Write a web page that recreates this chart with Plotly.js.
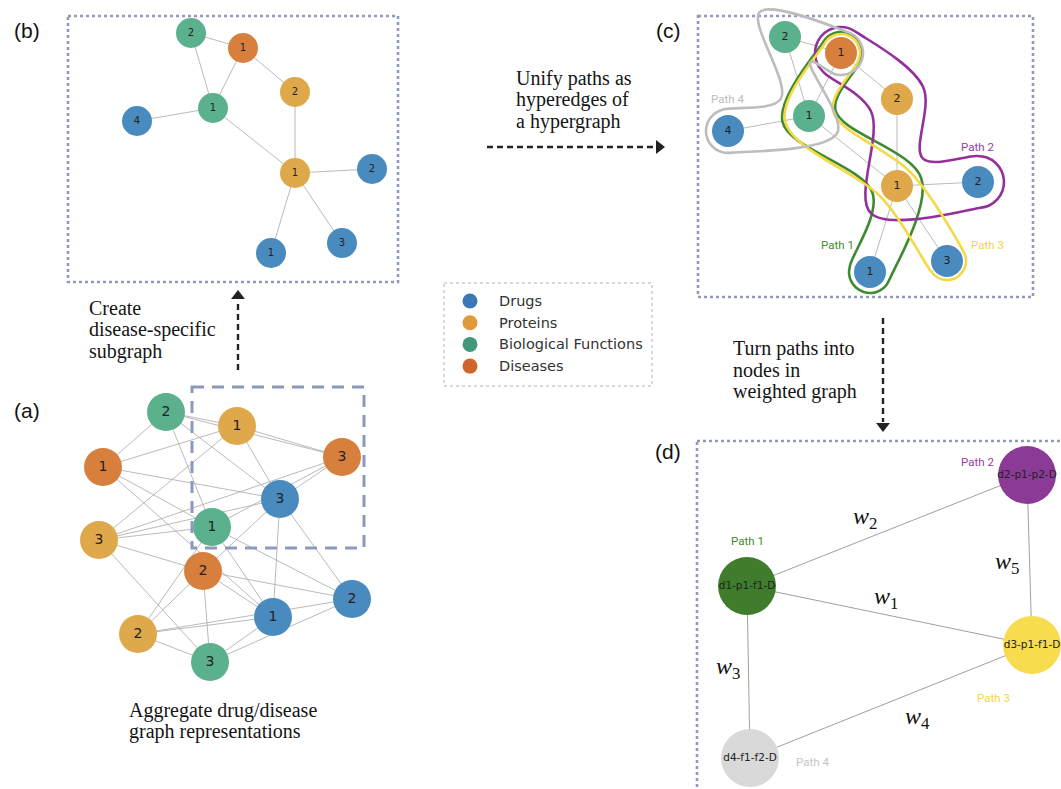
<!DOCTYPE html>
<html>
<head>
<meta charset="utf-8">
<script src="https://cdn.plot.ly/plotly-3.0.1.min.js"></script>
<style>
  html, body { margin: 0; padding: 0; background: #ffffff; }
  #fig { width: 1061px; height: 789px; }
</style>
</head>
<body>
<div id="fig"></div>
<script>
// ---------- node categories ----------
const categories = ['Drugs', 'Proteins', 'Biological Functions', 'Diseases'];
const categoryColors = ['#4a8bbf', '#dfa84a', '#5bb08d', '#d7803e'];
const legendColors = ['#3b78b5', '#e09a3a', '#40997a', '#cf6528'];

// ---------- (a) aggregated drug / disease graph ----------
const aNodeX = [166, 237, 342, 103, 280, 212, 99, 203, 352, 273, 138, 210];
const aNodeY = [412, 426, 457, 467, 499, 527, 540, 571, 599, 617, 634, 662];
const aNodeCat = [2, 1, 3, 3, 0, 2, 1, 3, 0, 0, 1, 2];
const aNodeLabel = ['2', '1', '3', '1', '3', '1', '3', '2', '2', '1', '2', '3'];
const aEdges = [
  [0, 3], [0, 1], [0, 2], [0, 5], [0, 4],
  [1, 3], [1, 2], [1, 6], [1, 4],
  [3, 4], [3, 5], [3, 9],
  [2, 4], [2, 5], [2, 6],
  [4, 6], [4, 7], [4, 9], [4, 8],
  [5, 6], [5, 8], [5, 9], [5, 10],
  [6, 7], [6, 11],
  [7, 8], [7, 9], [7, 11], [7, 10],
  [10, 9], [10, 8], [10, 11],
  [11, 9], [11, 8]
];

// ---------- (b) disease-specific subgraph ----------
const bNodeX = [191, 243, 295, 213, 137, 295, 372, 271, 342];
const bNodeY = [33, 48, 92, 108, 121, 173, 169, 253, 243];
const subNodeCat = [2, 3, 1, 2, 0, 1, 0, 0, 0];
const subNodeLabel = ['2', '1', '2', '1', '4', '1', '2', '1', '3'];
const subEdges = [[0, 1], [0, 3], [1, 3], [1, 2], [2, 5], [3, 4], [3, 5], [5, 6], [5, 7], [5, 8]];

// ---------- (c) hypergraph: same subgraph, paths as hyperedges ----------
const cNodeX = [785, 841, 897, 809, 728, 897, 978, 870, 947];
const cNodeY = [37, 53, 99, 116, 131, 186, 182, 272, 261];
const pathNames = ['Path 1', 'Path 2', 'Path 3', 'Path 4'];
const pathColors = ['#3e8a2e', '#94309c', '#f4d846', '#bdbdbd'];
const pathLabelColors = ['#3e8a2e', '#9b3aa5', '#f2d640', '#bdbdbd'];
const pathNodes = [
  [7, 5, 3, 1],   // d1 - p1 - f1 - D
  [1, 2, 5, 6],   // D - p2 - p1 - d2
  [1, 3, 5, 8],   // D - f1 - p1 - d3
  [4, 3, 0, 1]    // d4 - f1 - f2 - D
];
const pathLabelX = [837, 977, 987, 727];
const pathLabelY = [245, 147, 245, 99];

// ---------- (d) weighted graph of paths ----------
const dNodeLabel = ['d1-p1-f1-D', 'd2-p1-p2-D', 'd3-p1-f1-D', 'd4-f1-f2-D'];
const dNodeX = [747, 1027, 1032, 750];
const dNodeY = [586, 475, 645, 758];
const dNodeColors = ['#3f7d2c', '#8b3a96', '#f7dc50', '#d9d9d9'];
const dEdges = [[0, 1], [0, 2], [1, 2], [0, 3], [2, 3]];
const dWeights = ['2', '1', '5', '3', '4'];
const dPathLabelColors = ['#3e8a2e', '#9b3aa5', '#f2d640', '#c4c4c4'];

// ---------- captions ----------
const captionCreate = ['Create', 'disease-specific', 'subgraph'];
const captionUnify = ['Unify paths as', 'hyperedges of', 'a hypergraph'];
const captionTurn = ['Turn paths into', 'nodes in', 'weighted graph'];
const captionAggregate = ['Aggregate drug/disease', 'graph representations'];

// ---------- helpers ----------
function edgeXY(xs, ys, edges) {
  const x = [], y = [];
  edges.forEach(([s, t]) => { x.push(xs[s], xs[t], null); y.push(ys[s], ys[t], null); });
  return { x, y };
}

// Rounded band around a chain of nodes (offset both sides, round caps)
function bandOutline(pts, r) {
  const n = pts.length, dirs = [], nrms = [];
  for (let i = 0; i < n - 1; i++) {
    const dx = pts[i + 1][0] - pts[i][0], dy = pts[i + 1][1] - pts[i][1];
    const L = Math.hypot(dx, dy);
    dirs.push([dx / L, dy / L]);
    nrms.push([-dy / L, dx / L]);
  }
  const left = [], right = [];
  for (let i = 0; i < n; i++) {
    let b, m = r;
    if (i === 0) b = nrms[0];
    else if (i === n - 1) b = nrms[n - 2];
    else {
      const bx = nrms[i - 1][0] + nrms[i][0], by = nrms[i - 1][1] + nrms[i][1];
      const bl = Math.hypot(bx, by);
      if (bl < 1e-6) b = nrms[i];
      else {
        b = [bx / bl, by / bl];
        m = r / Math.max(b[0] * nrms[i][0] + b[1] * nrms[i][1], 0.62);
      }
    }
    left.push([pts[i][0] + b[0] * m, pts[i][1] + b[1] * m]);
    right.push([pts[i][0] - b[0] * m, pts[i][1] - b[1] * m]);
  }
  const arc = (c, u, v) => {
    const out = [];
    for (let k = 1; k < 8; k++) {
      const t = Math.PI * k / 8;
      out.push([c[0] + r * (Math.cos(t) * u[0] + Math.sin(t) * v[0]),
                c[1] + r * (Math.cos(t) * u[1] + Math.sin(t) * v[1])]);
    }
    return out;
  };
  const endCap = arc(pts[n - 1], nrms[n - 2], dirs[n - 2]);
  const startCap = arc(pts[0], [-nrms[0][0], -nrms[0][1]], [-dirs[0][0], -dirs[0][1]]);
  const ring = [...left, ...endCap, ...right.reverse(), ...startCap, left[0]];
  return { x: ring.map(p => p[0]), y: ring.map(p => p[1]) };
}

const edgeLine = { color: '#a8a8a8', width: 0.8 };
const nodeFont = (size) => ({ family: 'DejaVu Sans', size: size, color: '#222222' });
const traces = [];

// (a)
const aE = edgeXY(aNodeX, aNodeY, aEdges);
traces.push({ type: 'scatter', mode: 'lines', x: aE.x, y: aE.y, line: edgeLine, hoverinfo: 'skip' });
traces.push({
  type: 'scatter', mode: 'markers+text', x: aNodeX, y: aNodeY, text: aNodeLabel,
  textposition: 'middle center', textfont: nodeFont(14),
  marker: { size: 38, color: aNodeCat.map(c => categoryColors[c]), line: { width: 0 } },
  hoverinfo: 'skip'
});

// (b)
const bE = edgeXY(bNodeX, bNodeY, subEdges);
traces.push({ type: 'scatter', mode: 'lines', x: bE.x, y: bE.y, line: edgeLine, hoverinfo: 'skip' });
traces.push({
  type: 'scatter', mode: 'markers+text', x: bNodeX, y: bNodeY, text: subNodeLabel,
  textposition: 'middle center', textfont: nodeFont(10),
  marker: { size: 30, color: subNodeCat.map(c => categoryColors[c]), line: { width: 0 } },
  hoverinfo: 'skip'
});

// (c)
const cE = edgeXY(cNodeX, cNodeY, subEdges);
traces.push({ type: 'scatter', mode: 'lines', x: cE.x, y: cE.y, line: edgeLine, hoverinfo: 'skip' });
traces.push({
  type: 'scatter', mode: 'markers+text', x: cNodeX, y: cNodeY, text: subNodeLabel,
  textposition: 'middle center', textfont: nodeFont(11),
  marker: { size: 32, color: subNodeCat.map(c => categoryColors[c]), line: { width: 0 } },
  hoverinfo: 'skip'
});
const bandRadius = [21, 26, 19, 22];
pathNodes.forEach((seq, p) => {
  const ring = bandOutline(seq.map(i => [cNodeX[i], cNodeY[i]]), bandRadius[p]);
  traces.push({
    type: 'scatter', mode: 'lines', x: ring.x, y: ring.y,
    line: { color: pathColors[p], width: 2.6, shape: 'spline', smoothing: 1 },
    hoverinfo: 'skip'
  });
});

// (d)
const dE = edgeXY(dNodeX, dNodeY, dEdges);
traces.push({ type: 'scatter', mode: 'lines', x: dE.x, y: dE.y, line: { color: '#a0a0a0', width: 1 }, hoverinfo: 'skip' });
traces.push({
  type: 'scatter', mode: 'markers+text', x: dNodeX, y: dNodeY, text: dNodeLabel,
  textposition: 'middle center', textfont: nodeFont(10.5),
  marker: { size: 58, color: dNodeColors, line: { width: 0 } },
  hoverinfo: 'skip'
});

// legend swatches
const legendLeft = 470, legendTop = 301, legendStep = 21.7;
traces.push({
  type: 'scatter', mode: 'markers',
  x: categories.map(() => legendLeft),
  y: categories.map((_, i) => legendTop + i * legendStep),
  marker: { size: 15, color: legendColors, line: { width: 0 } },
  hoverinfo: 'skip'
});

// arrow heads of the dashed connectors
const arrows = [
  { x0: 238, y0: 370, x1: 238, y1: 300, head: 'triangle-up', hx: 238, hy: 296 },
  { x0: 487, y0: 147, x1: 656, y1: 147, head: 'triangle-right', hx: 659, hy: 147 },
  { x0: 883, y0: 318, x1: 883, y1: 422, head: 'triangle-down', hx: 883, hy: 426 }
];
arrows.forEach(a => traces.push({
  type: 'scatter', mode: 'markers', x: [a.hx], y: [a.hy],
  marker: { symbol: a.head, size: 12, color: '#222222', line: { width: 0 } },
  hoverinfo: 'skip'
}));

// ---------- shapes ----------
const boxLine = { color: '#8f97c2', width: 2.6, dash: 'dot' };
const shapes = [
  { type: 'rect', x0: 68, y0: 16, x1: 398, y1: 282, line: boxLine, layer: 'below' },
  { type: 'rect', x0: 698, y0: 16, x1: 1033, y1: 297, line: boxLine, layer: 'below' },
  { type: 'rect', x0: 697, y0: 441, x1: 1075, y1: 800, line: boxLine, layer: 'below' },
  { type: 'rect', x0: 444, y0: 283, x1: 652, y1: 386, line: { color: '#a9b0cc', width: 1, dash: 'dot' } },
  { type: 'rect', x0: 192, y0: 387, x1: 364, y1: 548, line: { color: '#8c99be', width: 3, dash: '12px,8px' }, layer: 'above' }
];
arrows.forEach(a => shapes.push({
  type: 'line', x0: a.x0, y0: a.y0, x1: a.x1, y1: a.y1,
  line: { color: '#222222', width: 2.4, dash: '6px,4px' }
}));

// ---------- annotations ----------
const serif = { family: 'Liberation Serif, Times New Roman, serif', size: 20, color: '#151515' };
const sans = { family: 'Liberation Sans, Arial, sans-serif', size: 21, color: '#111111' };
const pathFont = (color, size) => ({ family: 'Roboto, sans-serif', size: size, color: color });
const annotations = [];
const addText = (x, y, text, font, xanchor) => annotations.push({
  x, y, xref: 'x', yref: 'y', text, font, showarrow: false,
  xanchor: xanchor || 'left', yanchor: 'middle', align: 'left'
});
// multi-line caption with tight line spacing
const lineGap = 21.7;
const addCaption = (x, yFirst, lines) =>
  lines.forEach((t, i) => addText(x, yFirst + i * lineGap, t, serif));

addText(27, 30, '(b)', sans, 'center');
addText(668, 30, '(c)', sans, 'center');
addText(27, 410, '(a)', sans, 'center');
addText(668, 451, '(d)', sans, 'center');

addCaption(87, 308, captionCreate);
addCaption(514, 78, captionUnify);
addCaption(731, 348, captionTurn);
addCaption(127, 710, captionAggregate);

categories.forEach((c, i) => addText(497, legendTop + i * legendStep, c,
  { family: 'DejaVu Sans', size: 14.5, color: '#333333' }));

pathNames.forEach((p, i) => addText(pathLabelX[i], pathLabelY[i], p,
  pathFont(pathLabelColors[i], 11.5), 'center'));

// (d) path labels next to each node
const dLabelOffset = [[0, -45], [-50, -13], [-39, 53], [62, 4]];
dNodeX.forEach((x, i) => addText(x + dLabelOffset[i][0], dNodeY[i] + dLabelOffset[i][1],
  pathNames[i], pathFont(dPathLabelColors[i], 11.5), 'center'));

// (d) edge weights near each edge midpoint
const wOffset = [[-22, -13], [-4, -18], [-23, 3], [-21, -4], [26, 16]];
dEdges.forEach(([s, t], k) => {
  const mx = (dNodeX[s] + dNodeX[t]) / 2, my = (dNodeY[s] + dNodeY[t]) / 2;
  addText(mx + wOffset[k][0], my + wOffset[k][1],
    '<i>w</i><sub>' + dWeights[k] + '</sub>',
    { family: 'Liberation Serif, Times New Roman, serif', size: 24, color: '#111111' }, 'center');
});

const layout = {
  width: 1061, height: 789,
  margin: { l: 0, r: 0, t: 0, b: 0, pad: 0 },
  paper_bgcolor: '#ffffff', plot_bgcolor: '#ffffff',
  showlegend: false,
  xaxis: { range: [0, 1061], visible: false, fixedrange: true },
  yaxis: { range: [789, 0], visible: false, fixedrange: true },
  shapes, annotations
};

Plotly.newPlot('fig', traces, layout, { staticPlot: true, displayModeBar: false });
</script>
</body>
</html>
